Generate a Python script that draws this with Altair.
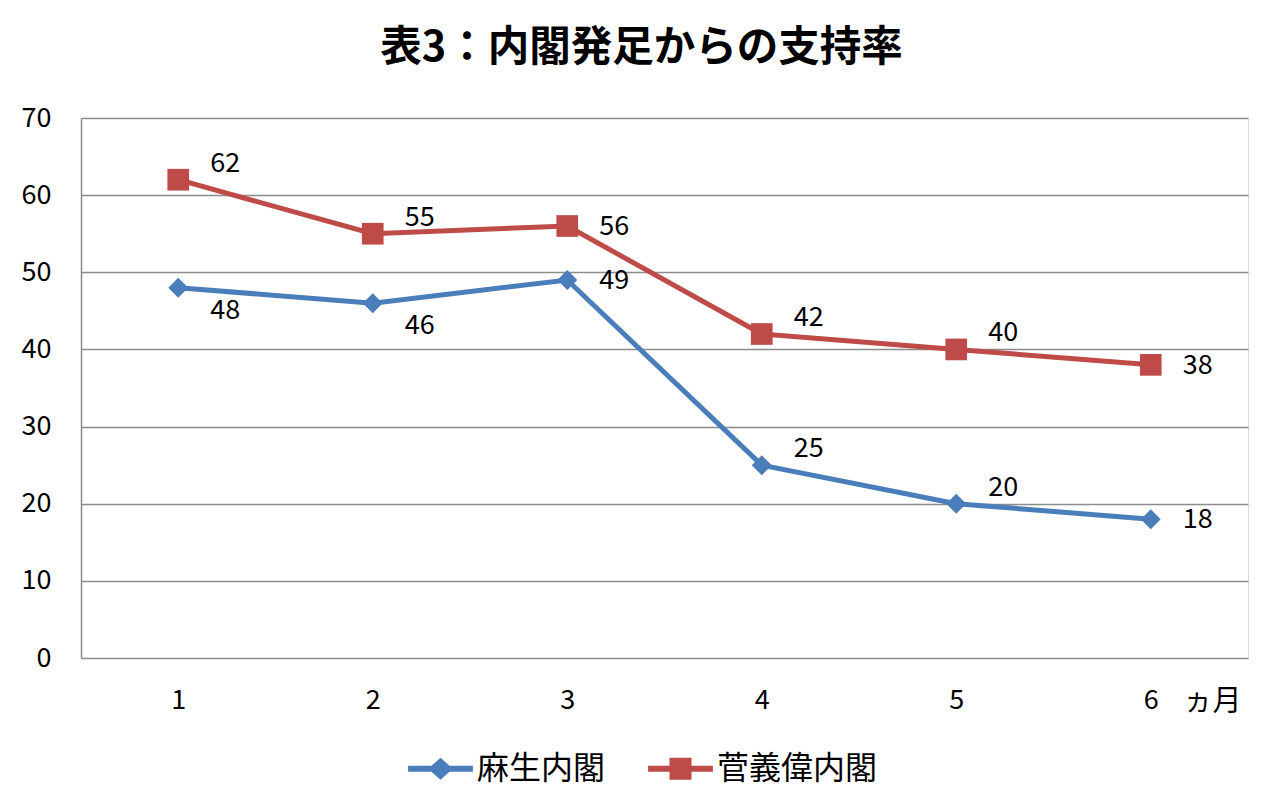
import altair as alt
import pandas as pd

months = [1, 2, 3, 4, 5, 6]
aso = [48, 46, 49, 25, 20, 18]
suga = [62, 55, 56, 42, 40, 38]
aso_label_pos = ["below", "below", "right", "above", "above", "right"]
suga_label_pos = ["above", "above", "right", "above", "above", "right"]
series_names = ["麻生内閣", "菅義偉内閣"]
colors = ["#4A7EBB", "#BE4B48"]
y_ticks = [0, 10, 20, 30, 40, 50, 60, 70]

rows = []
for m, v, p in zip(months, aso, aso_label_pos):
    rows.append({"month": m, "value": v, "series": series_names[0], "pos": p})
for m, v, p in zip(months, suga, suga_label_pos):
    rows.append({"month": m, "value": v, "series": series_names[1], "pos": p})
df = pd.DataFrame(rows)

FONT = "Noto Sans CJK JP"

# legend symbol paths: line with marker
diamond_path = ("M-1,-0.09 L-0.28,-0.09 L0,-0.34 L0.28,-0.09 L1,-0.09 "
                "L1,0.09 L0.28,0.09 L0,0.34 L-0.28,0.09 L-1,0.09 Z")
square_path = ("M-1,-0.09 L-0.34,-0.09 L-0.34,-0.34 L0.34,-0.34 L0.34,-0.09 L1,-0.09 "
               "L1,0.09 L0.34,0.09 L0.34,0.34 L-0.34,0.34 L-0.34,0.09 L-1,0.09 Z")

x_enc = alt.X(
    "month:O",
    scale=alt.Scale(type="point", padding=0.5),
    axis=alt.Axis(
        title="ヵ月", labelAngle=0, labelFontSize=27, labelFont=FONT,
        labelColor="#000000", labelPadding=29, ticks=False, domain=False, grid=False,
        titleFont=FONT, titleFontSize=29, titleFontWeight="normal", titleColor="#000000",
        titleX=1131, titleY=43, titleBaseline="middle", titleAlign="center",
    ),
)
y_enc = alt.Y(
    "value:Q",
    scale=alt.Scale(domain=[0, 70], nice=False),
    axis=alt.Axis(
        title=None, values=y_ticks, labelFontSize=27, labelFont=FONT,
        labelColor="#000000", labelPadding=30, ticks=False,
        domain=True, domainColor="#8C8C8C", domainWidth=1.5,
        grid=True, gridColor="#8C8C8C", gridWidth=1.5,
    ),
)

base = alt.Chart(df)

def series_line(i):
    return base.transform_filter(alt.datum.series == series_names[i]).mark_line(
        strokeWidth=5, color=colors[i]
    ).encode(x=x_enc, y=y_enc)

def markers(i, shape, size):
    return base.transform_filter(alt.datum.series == series_names[i]).mark_point(
        filled=True, opacity=1, size=size, shape=shape, color=colors[i]
    ).encode(x=x_enc, y=y_enc)

legend_props = dict(
    title=None, orient="none", direction="horizontal",
    legendX=327, legendY=618,
    labelFont=FONT, labelFontSize=32, labelColor="#000000", labelLimit=400,
    symbolSize=4200, symbolStrokeWidth=0,
    symbolOpacity=1, columnPadding=42, labelOffset=4,
)

legend_layer = base.mark_point(filled=True, opacity=0, size=10).encode(
    x=x_enc, y=y_enc,
    color=alt.Color("series:N", scale=alt.Scale(domain=series_names, range=colors),
                    legend=alt.Legend(**legend_props)),
    shape=alt.Shape("series:N", scale=alt.Scale(domain=series_names, range=[diamond_path, square_path]),
                    legend=alt.Legend(**legend_props)),
)

def labels(pos, dy):
    return base.transform_filter(alt.datum.pos == pos).mark_text(
        font=FONT, fontSize=27, color="#000000", dx=47, dy=dy,
        align="center", baseline="middle",
    ).encode(x=x_enc, y=y_enc, text="value:Q")

chart = alt.layer(
    series_line(0), series_line(1), legend_layer,
    markers(0, "diamond", 400), markers(1, "square", 470),
    labels("above", -16), labels("below", 23), labels("right", 1),
).properties(
    width=1167, height=540,
    title=alt.Title(
        "表3：内閣発足からの支持率", font=FONT, fontSize=41.5, fontWeight="bold",
        color="#000000", anchor="middle", dx=-23, offset=35,
    ),
    autosize=alt.AutoSizeParams(type="none"),
    padding={"left": 73, "top": 110, "right": 24, "bottom": 140},
).configure_view(stroke=None).configure(background="#FFFFFF")

chart.save("out.html", embed_options={"renderer": "svg", "actions": False})
